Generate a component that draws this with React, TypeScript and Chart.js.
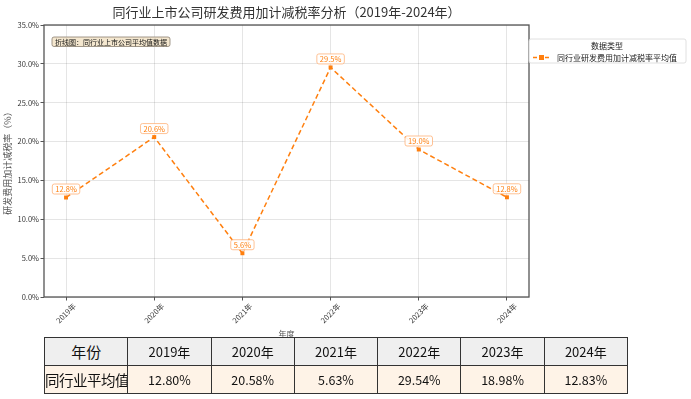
import React, { useEffect, useRef } from "react";
import { Chart, registerables } from "chart.js";

Chart.register(...registerables);

const FONT = '"Noto Sans CJK SC", "Noto Sans", sans-serif';

const years: string[] = ["2019年", "2020年", "2021年", "2022年", "2023年", "2024年"];
const avgRates: number[] = [12.8, 20.58, 5.63, 29.54, 18.98, 12.83];
const tableValues: string[] = ["12.80%", "20.58%", "5.63%", "29.54%", "18.98%", "12.83%"];
const yTicks: number[] = [0, 5, 10, 15, 20, 25, 30, 35];

const chartTitle = "同行业上市公司研发费用加计减税率分析（2019年-2024年）";
const yTitle = "研发费用加计减税率（%）";
const xTitle = "年度";
const seriesName = "同行业研发费用加计减税率平均值";
const legendTitle = "数据类型";
const noteText = "折线图：同行业上市公司平均值数据";
const tableHeadLabel = "年份";
const tableRowLabel = "同行业平均值";

const ORANGE = "#ff7f0e";

const overlayPlugin = {
  id: "overlay",
  afterDatasetsDraw(chart: any) {
    const ctx = chart.ctx;
    const area = chart.chartArea;
    ctx.save();
    // spines
    ctx.strokeStyle = "#555";
    ctx.lineWidth = 1.3;
    ctx.setLineDash([]);
    ctx.strokeRect(area.left, area.top, area.right - area.left, area.bottom - area.top);

    // data labels
    const meta = chart.getDatasetMeta(0);
    ctx.font = `7.5px ${FONT}`;
    ctx.textAlign = "center";
    ctx.textBaseline = "middle";
    meta.data.forEach((pt: any, i: number) => {
      const txt = avgRates[i].toFixed(1) + "%";
      const w = ctx.measureText(txt).width + 6;
      const h = 10;
      const cx = pt.x;
      const cy = pt.y - 8.5;
      ctx.fillStyle = "rgba(255,255,255,0.9)";
      ctx.strokeStyle = "#ffb27a";
      ctx.lineWidth = 0.8;
      ctx.beginPath();
      ctx.roundRect(cx - w / 2, cy - h / 2, w, h, 2);
      ctx.fill();
      ctx.stroke();
      ctx.fillStyle = ORANGE;
      ctx.fillText(txt, cx, cy + 0.5);
    });

    // note box
    ctx.font = `7px ${FONT}`;
    ctx.textAlign = "left";
    const nw = ctx.measureText(noteText).width + 6;
    const nx = area.left + 8;
    const ny = area.top + 12;
    ctx.fillStyle = "#f4e7cf";
    ctx.strokeStyle = "#8a7f70";
    ctx.lineWidth = 0.8;
    ctx.beginPath();
    ctx.roundRect(nx, ny, nw, 9.5, 2);
    ctx.fill();
    ctx.stroke();
    ctx.fillStyle = "#111";
    ctx.fillText(noteText, nx + 3, ny + 5);

    // legend
    const lx = area.right;
    const ly = 39;
    const lw = 157;
    const lh = 24;
    ctx.fillStyle = "rgba(255,255,255,0.9)";
    ctx.strokeStyle = "#d8d8d8";
    ctx.lineWidth = 0.8;
    ctx.beginPath();
    ctx.roundRect(lx, ly, lw, lh, 2);
    ctx.fill();
    ctx.stroke();
    ctx.fillStyle = "#222";
    ctx.font = `8px ${FONT}`;
    ctx.textAlign = "center";
    ctx.fillText(legendTitle, lx + 78, ly + 6.5);
    ctx.strokeStyle = ORANGE;
    ctx.lineWidth = 1.3;
    ctx.setLineDash([4, 2]);
    ctx.beginPath();
    ctx.moveTo(lx + 4, ly + 18.5);
    ctx.lineTo(lx + 21, ly + 18.5);
    ctx.stroke();
    ctx.setLineDash([]);
    ctx.fillStyle = ORANGE;
    ctx.fillRect(lx + 10, ly + 16, 5, 5);
    ctx.fillStyle = "#222";
    ctx.textAlign = "left";
    ctx.fillText(seriesName, lx + 28, ly + 18.5);
    ctx.restore();
  },
};

function App() {
  const ref = useRef<HTMLCanvasElement | null>(null);
  useEffect(() => {
    if (!ref.current) return;
    const chart = new Chart(ref.current, {
      type: "line",
      data: {
        datasets: [
          {
            label: seriesName,
            data: avgRates.map((v, i) => ({ x: i, y: v })),
            borderColor: ORANGE,
            backgroundColor: ORANGE,
            borderWidth: 1.5,
            borderDash: [5, 3],
            pointStyle: "rect",
            pointRadius: 2.8,
            pointBorderWidth: 0,
            tension: 0,
          },
        ],
      },
      options: {
        responsive: false,
        animation: false,
        layout: { padding: { left: 0, right: 162, top: 0, bottom: 57 } },
        plugins: {
          legend: { display: false },
          tooltip: { enabled: false },
          title: {
            display: true,
            text: chartTitle,
            fullSize: false,
            color: "#333",
            font: { family: FONT, size: 13, weight: "normal" },
            padding: { top: 4, bottom: 5.4 },
          },
        },
        scales: {
          x: {
            type: "linear",
            min: -0.25,
            max: 5.25,
            afterBuildTicks: (s: any) => {
              s.ticks = years.map((_, i) => ({ value: i }));
            },
            afterFit: (s: any) => {
              s.height = 45;
            },
            border: { display: false },
            grid: {
              color: "rgba(0,0,0,0.1)",
              borderDash: [3, 3],
              tickLength: 3.5,
              tickColor: "#555",
              tickBorderDash: [],
            },
            ticks: {
              autoSkip: false,
              minRotation: 45,
              maxRotation: 45,
              labelOffset: 8.5,
              padding: 1,
              color: "#333",
              font: { family: FONT, size: 7.5 },
              callback: (v: any) => years[v as number] ?? "",
            },
            title: {
              display: true,
              text: xTitle,
              color: "#555",
              font: { family: FONT, size: 8 },
              padding: { top: 0, bottom: 3.2 },
            },
          },
          y: {
            min: 0,
            max: 35,
            afterBuildTicks: (s: any) => {
              s.ticks = yTicks.map((v) => ({ value: v }));
            },
            afterFit: (s: any) => {
              s.width = 44;
            },
            border: { display: false },
            grid: {
              color: "rgba(0,0,0,0.1)",
              borderDash: [3, 3],
              tickLength: 3.5,
              tickColor: "#555",
              tickBorderDash: [],
            },
            ticks: {
              padding: 1.5,
              color: "#333",
              font: { family: FONT, size: 7.5 },
              callback: (v: any) => Number(v).toFixed(1) + "%",
            },
            title: {
              display: true,
              text: yTitle,
              color: "#555",
              font: { family: FONT, size: 9 },
              padding: { top: 2, bottom: 0 },
            },
          },
        },
      } as any,
      plugins: [overlayPlugin],
    });
    return () => chart.destroy();
  }, []);

  const cellBase: React.CSSProperties = {
    border: "1px solid #333",
    textAlign: "center",
    verticalAlign: "middle",
    padding: 0,
    height: 27,
    fontFamily: FONT,
    color: "#111",
    whiteSpace: "nowrap",
    overflow: "hidden",
  };

  return (
    <div style={{ position: "fixed", left: 0, top: 0, width: 691, height: 399, background: "#fff" }}>
      <canvas ref={ref} width={691} height={399} style={{ position: "absolute", left: 0, top: 0, width: 691, height: 399 }} />
      <table
        style={{
          position: "absolute",
          left: 44,
          top: 337,
          width: 583,
          borderCollapse: "collapse",
          tableLayout: "fixed",
        }}
      >
        <colgroup>
          {[0, 1, 2, 3, 4, 5, 6].map((i) => (
            <col key={i} style={{ width: 583 / 7 }} />
          ))}
        </colgroup>
        <tbody>
          <tr style={{ background: "#efefef" }}>
            <td style={{ ...cellBase, fontSize: 15 }}>{tableHeadLabel}</td>
            {years.map((y) => (
              <td key={y} style={{ ...cellBase, fontSize: 13 }}>{y}</td>
            ))}
          </tr>
          <tr style={{ background: "#fef3e7" }}>
            <td style={{ ...cellBase, fontSize: 14.5, letterSpacing: -0.5 }}>{tableRowLabel}</td>
            {tableValues.map((v, i) => (
              <td key={i} style={{ ...cellBase, fontSize: 12.5 }}>{v}</td>
            ))}
          </tr>
        </tbody>
      </table>
    </div>
  );
}

export default App;
